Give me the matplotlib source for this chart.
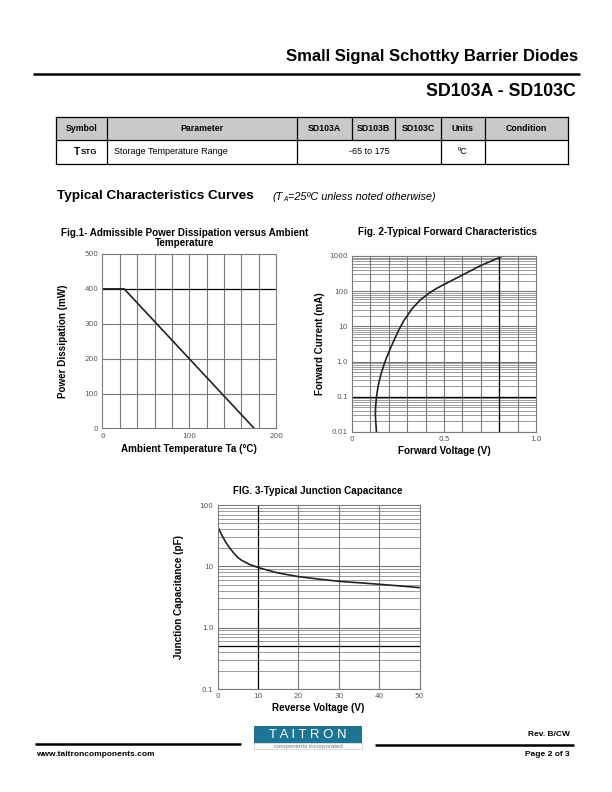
import matplotlib
matplotlib.use("Agg")
import matplotlib.pyplot as plt
from matplotlib.patches import Rectangle
from matplotlib.ticker import FixedLocator, NullFormatter
import numpy as np

plt.rcParams['font.family'] = ['Liberation Sans', 'DejaVu Sans']

# ---------------- data ----------------
table_header = ["Symbol", "Parameter", "SD103A", "SD103B", "SD103C", "Units", "Condition"]
table_param = "Storage Temperature Range"
table_value = "-65 to 175"
table_unit = "ºC"

fig1_temp = [0, 25, 175]
fig1_power = [400, 400, 0]
fig1_xticks = [0, 100, 200]
fig1_yticks = [0, 100, 200, 300, 400, 500]

fig2_voltage = [0.133, 0.129, 0.127, 0.128, 0.133, 0.142, 0.155, 0.173, 0.187, 0.205,
                0.225, 0.25, 0.28, 0.326, 0.37, 0.42, 0.46, 0.50, 0.60, 0.70, 0.82]
fig2_current = [0.01, 0.02, 0.03, 0.05, 0.1, 0.2, 0.4, 0.79, 1.26, 2.14,
                3.7, 7.1, 14.1, 31.6, 56, 89, 120, 155, 288, 537, 1000]
fig2_yticks = [0.01, 0.1, 1, 10, 100, 1000]
fig2_ylabels = ["0.01", "0.1", "1.0", "10", "100", "1000"]
fig2_xticks = [0, 0.5, 1.0]
fig2_xlabels = ["0", "0.5", "1.0"]

fig3_voltage = [0, 1, 2, 3, 4, 5, 6, 8, 10, 12, 15, 20, 25, 30, 35, 40, 45, 50]
fig3_cap = [45, 33, 25, 20, 16.5, 14, 12.5, 10.7, 9.6, 8.8, 7.8, 6.8, 6.2, 5.7, 5.4, 5.1, 4.8, 4.5]
fig3_yticks = [0.1, 1, 10, 100]
fig3_ylabels = ["0.1", "1.0", "10", "100"]
fig3_xticks = [0, 10, 20, 30, 40, 50]

W, H = 612, 792
fig = plt.figure(figsize=(W / 100, H / 100), dpi=100)

bg = fig.add_axes([0, 0, 1, 1])
bg.set_xlim(0, W)
bg.set_ylim(H, 0)
bg.axis('off')
bg.set_zorder(-1)

# ---------------- header ----------------
bg.text(578, 57, "Small Signal Schottky Barrier Diodes", ha='right', va='center',
        fontsize=12, fontweight='bold')
bg.plot([33, 580], [74, 74], color='black', lw=1.8, solid_capstyle='butt')
bg.text(576, 91, "SD103A - SD103C", ha='right', va='center', fontsize=12.8, fontweight='bold')

# ---------------- table ----------------
cols = [56, 107, 297, 352, 395, 441, 485, 568]
rows = [117, 140, 164]
bg.add_patch(Rectangle((cols[0], rows[0]), cols[-1] - cols[0], rows[1] - rows[0],
                       facecolor='#c9c9c9', edgecolor='none'))
for yy in rows:
    bg.plot([cols[0], cols[-1]], [yy, yy], color='black', lw=0.9)
for i, xx in enumerate(cols):
    if i in (3, 4):
        bg.plot([xx, xx], [rows[0], rows[1]], color='black', lw=0.9)
    else:
        bg.plot([xx, xx], [rows[0], rows[2]], color='black', lw=0.9)
for i, t in enumerate(table_header):
    bg.text((cols[i] + cols[i + 1]) / 2, (rows[0] + rows[1]) / 2, t, ha='center', va='center',
            fontsize=6.3, fontweight='bold')
ym = (rows[1] + rows[2]) / 2
bg.text(74, ym, "T", ha='left', va='center', fontsize=7.4, fontweight='bold')
bg.text(80.5, ym + 0.5, "STG", ha='left', va='center', fontsize=5.7, fontweight='bold')
bg.text(114, ym, table_param, ha='left', va='center', fontsize=6.5)
bg.text((cols[2] + cols[5]) / 2, ym, table_value, ha='center', va='center', fontsize=6.5)
bg.text((cols[5] + cols[6]) / 2, ym, table_unit, ha='center', va='center', fontsize=6.5)

# ---------------- section title ----------------
bg.text(57, 196, "Typical Characteristics Curves", ha='left', va='center',
        fontsize=9.7, fontweight='bold')
bg.text(272, 197, "(T", ha='left', va='center', fontsize=7.8, style='italic')
bg.text(283, 199.5, "A", ha='left', va='center', fontsize=4.8, style='italic')
bg.text(288, 197, "=25ºC unless noted otherwise)", ha='left', va='center', fontsize=7.8, style='italic')

GRID = '#7a7a7a'
TICKC = '#555555'


def make_axes(x0, x1, y0, y1):
    ax = fig.add_axes([x0 / W, 1 - y1 / H, (x1 - x0) / W, (y1 - y0) / H])
    for s in ax.spines.values():
        s.set_color(GRID)
        s.set_linewidth(0.8)
    ax.tick_params(length=0, labelsize=5.2, labelcolor=TICKC, pad=3)
    return ax


def fix_ticks(ax):
    for lab in ax.get_xticklabels() + ax.get_yticklabels():
        lab.set_family('DejaVu Sans')


TFS = 7.1   # figure title font size
LFS = 7.1   # axis label font size

# ---------------- Fig 1 ----------------
bg.text(185, 233, "Fig.1- Admissible Power Dissipation versus Ambient", ha='center', va='center',
        fontsize=TFS, fontweight='bold')
bg.text(185, 243.5, "Temperature", ha='center', va='center', fontsize=TFS, fontweight='bold')
ax1 = make_axes(102.5, 276, 254, 428.5)
ax1.set_xlim(0, 200)
ax1.set_ylim(0, 500)
ax1.set_xticks(fig1_xticks)
ax1.set_yticks(fig1_yticks)
for xv in np.arange(20, 200, 20):
    ax1.axvline(xv, color=GRID, lw=0.8)
for yv in [100, 200, 300]:
    ax1.axhline(yv, color=GRID, lw=0.8)
ax1.axhline(400, color='black', lw=0.9)
ax1.plot(fig1_temp, fig1_power, color='#222222', lw=1.2)
ax1.set_xlabel("Ambient Temperature Ta (°C)", fontsize=LFS, fontweight='bold', labelpad=4)
ax1.set_ylabel("Power Dissipation (mW)", fontsize=LFS, fontweight='bold', labelpad=12)
fix_ticks(ax1)

# ---------------- Fig 2 ----------------
bg.text(447, 232, "Fig. 2-Typical Forward Characteristics", ha='center', va='center',
        fontsize=TFS, fontweight='bold')
ax2 = make_axes(352, 536, 256, 432)
ax2.set_yscale('log')
ax2.set_xlim(0, 1.0)
ax2.set_ylim(0.01, 1000)
ax2.yaxis.set_major_locator(FixedLocator(fig2_yticks))
ax2.set_yticklabels(fig2_ylabels)
ax2.yaxis.set_minor_formatter(NullFormatter())
ax2.tick_params(which='minor', length=0)
ax2.set_xticks(fig2_xticks)
ax2.set_xticklabels(fig2_xlabels)
for d in [0.01, 0.1, 1, 10, 100]:
    for m in range(2, 10):
        ax2.axhline(d * m, color='#8a8a8a', lw=0.6)
    ax2.axhline(d, color=GRID, lw=0.8)
for xv in np.arange(0.1, 1.0, 0.1):
    ax2.axvline(xv, color=GRID, lw=0.8)
ax2.axhline(0.1, color='black', lw=0.9)
ax2.axvline(0.8, color='black', lw=0.9)
ax2.plot(fig2_voltage, fig2_current, color='#222222', lw=1.2)
ax2.set_xlabel("Forward Voltage (V)", fontsize=LFS, fontweight='bold', labelpad=2.5)
ax2.set_ylabel("Forward Current (mA)", fontsize=LFS, fontweight='bold', labelpad=3)
fix_ticks(ax2)

# ---------------- Fig 3 ----------------
bg.text(318, 491, "FIG. 3-Typical Junction Capacitance", ha='center', va='center',
        fontsize=TFS, fontweight='bold')
ax3 = make_axes(217.5, 419.5, 505, 689)
ax3.set_yscale('log')
ax3.set_xlim(0, 50)
ax3.set_ylim(0.1, 100)
ax3.yaxis.set_major_locator(FixedLocator(fig3_yticks))
ax3.set_yticklabels(fig3_ylabels)
ax3.yaxis.set_minor_formatter(NullFormatter())
ax3.tick_params(which='minor', length=0)
ax3.set_xticks(fig3_xticks)
for d in [0.1, 1, 10]:
    for m in range(2, 10):
        ax3.axhline(d * m, color='#8a8a8a', lw=0.6)
    ax3.axhline(d, color=GRID, lw=0.8)
for xv in [20, 30, 40]:
    ax3.axvline(xv, color=GRID, lw=0.8)
ax3.axvline(10, color='black', lw=0.9)
ax3.axhline(0.5, color='black', lw=0.9)
ax3.plot(fig3_voltage, fig3_cap, color='#222222', lw=1.2)
ax3.set_xlabel("Reverse Voltage (V)", fontsize=LFS, fontweight='bold', labelpad=2.5)
ax3.set_ylabel("Junction Capacitance (pF)", fontsize=LFS, fontweight='bold', labelpad=11)
fix_ticks(ax3)

# ---------------- footer ----------------
bg.plot([35, 241], [744, 744], color='black', lw=1.8, solid_capstyle='butt')
bg.plot([375, 574], [745, 745], color='black', lw=1.8, solid_capstyle='butt')
bg.add_patch(Rectangle((254, 726), 108, 17, facecolor='#1d7595', edgecolor='none'))
bg.text(308, 734.5, "T A I T R O N", ha='center', va='center', fontsize=9.5, color='white')
bg.add_patch(Rectangle((254, 743), 108, 6, facecolor='white', edgecolor='#bbbbbb', lw=0.4))
bg.text(308, 746.3, "components incorporated", ha='center', va='center', fontsize=4.4, color='#777777')
bg.text(570, 735, "Rev. B/CW", ha='right', va='center', fontsize=6, fontweight='bold')
bg.text(36, 755, "www.taitroncomponents.com", ha='left', va='center', fontsize=6, fontweight='bold')
bg.text(570, 755, "Page 2 of 3", ha='right', va='center', fontsize=6, fontweight='bold')

fig.savefig("out.png", dpi=100)
